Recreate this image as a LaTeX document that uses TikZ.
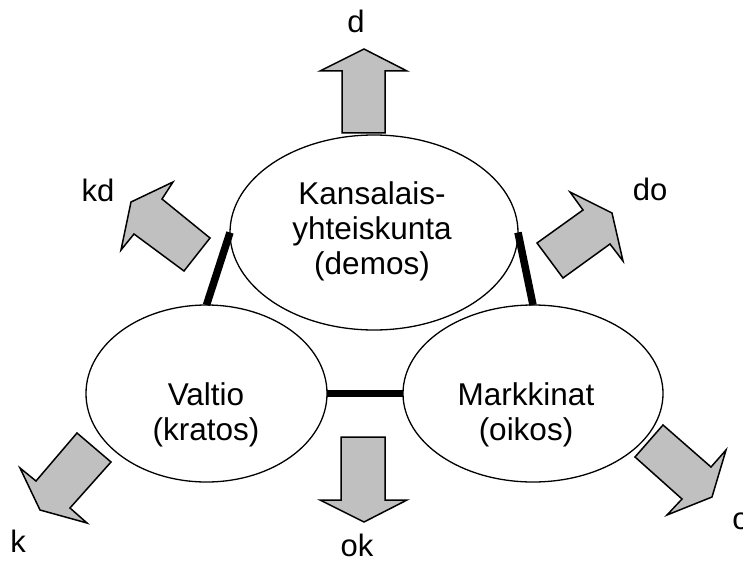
\documentclass[tikz,border=0pt]{standalone}
\usepackage{fontspec}
\setmainfont{Liberation Sans}
\usetikzlibrary{shapes.geometric}
\tikzset{
  x=1pt, y=-1pt,
  blob/.style={draw, fill=white, ellipse, line width=1.3pt, inner sep=0pt, outer sep=0pt},
  bigtext/.style={align=center, inner sep=0pt, font={\fontsize{31.5}{35}\selectfont}},
  lbl/.style={inner sep=0pt, anchor=base, font={\fontsize{31}{35}\selectfont}},
  link/.style={line width=7.5pt},
  blockarrow/.style={draw, fill=arrowgray, line width=1.5pt, line join=miter},
}
\definecolor{arrowgray}{HTML}{C0C0C0}
\begin{document}
\begin{tikzpicture}
\useasboundingbox (0,0) rectangle (743,564);
% block arrows
\draw[blockarrow] (342,133) -- (342,71) -- (320,71) -- (364,49) -- (407,71) -- (385,71) -- (385,133) -- cycle;
\draw[blockarrow] (341,437) -- (385,437) -- (385,500) -- (407,500) -- (364,522) -- (320,500) -- (341,500) -- cycle;
\draw[blockarrow] (210,238) -- (162,199) -- (173,182) -- (131,202) -- (121,250) -- (134,234) -- (184,271) -- cycle;
\draw[blockarrow] (537,243) -- (583,210) -- (570,192) -- (612,213) -- (623,261) -- (610,244) -- (563,278) -- cycle;
\draw[blockarrow] (77,433) -- (111,462) -- (70,508) -- (87,523) -- (40,510) -- (20,468) -- (36,481) -- cycle;
\draw[blockarrow] (663,425) -- (635,457) -- (682,499) -- (667,515) -- (712,497) -- (726,450) -- (711,467) -- cycle;
% ellipses
\node[blob, minimum width=288pt, minimum height=195pt] (demos) at (374,232.5) {};
\node[blob, minimum width=241pt, minimum height=177pt] (kratos) at (206.5,393.5) {};
\node[blob, minimum width=260pt, minimum height=177pt] (oikos) at (533,393.5) {};
\node[bigtext] (tdemos) at (372,231) {Kansalais-\\yhteiskunta\\(demos)};
\node[bigtext] (tkratos) at (206,414.5) {Valtio\\(kratos)};
\node[bigtext] (toikos) at (526,414.5) {Markkinat\\(oikos)};
% thick links
\draw[link] (demos.west) -- (kratos.north);
\draw[link] (demos.east) -- (oikos.north);
\draw[link] (kratos.east) -- (oikos.west);
% labels
\node[lbl] (ld) at (356,33) {d};
\node[lbl] (lkd) at (98,201) {kd};
\node[lbl] (ldo) at (650,200) {do};
\node[lbl] (lk) at (18,552) {k};
\node[lbl] (lok) at (357,556) {ok};
\node[lbl] (lo) at (741,529) {o};
\end{tikzpicture}
\end{document}
